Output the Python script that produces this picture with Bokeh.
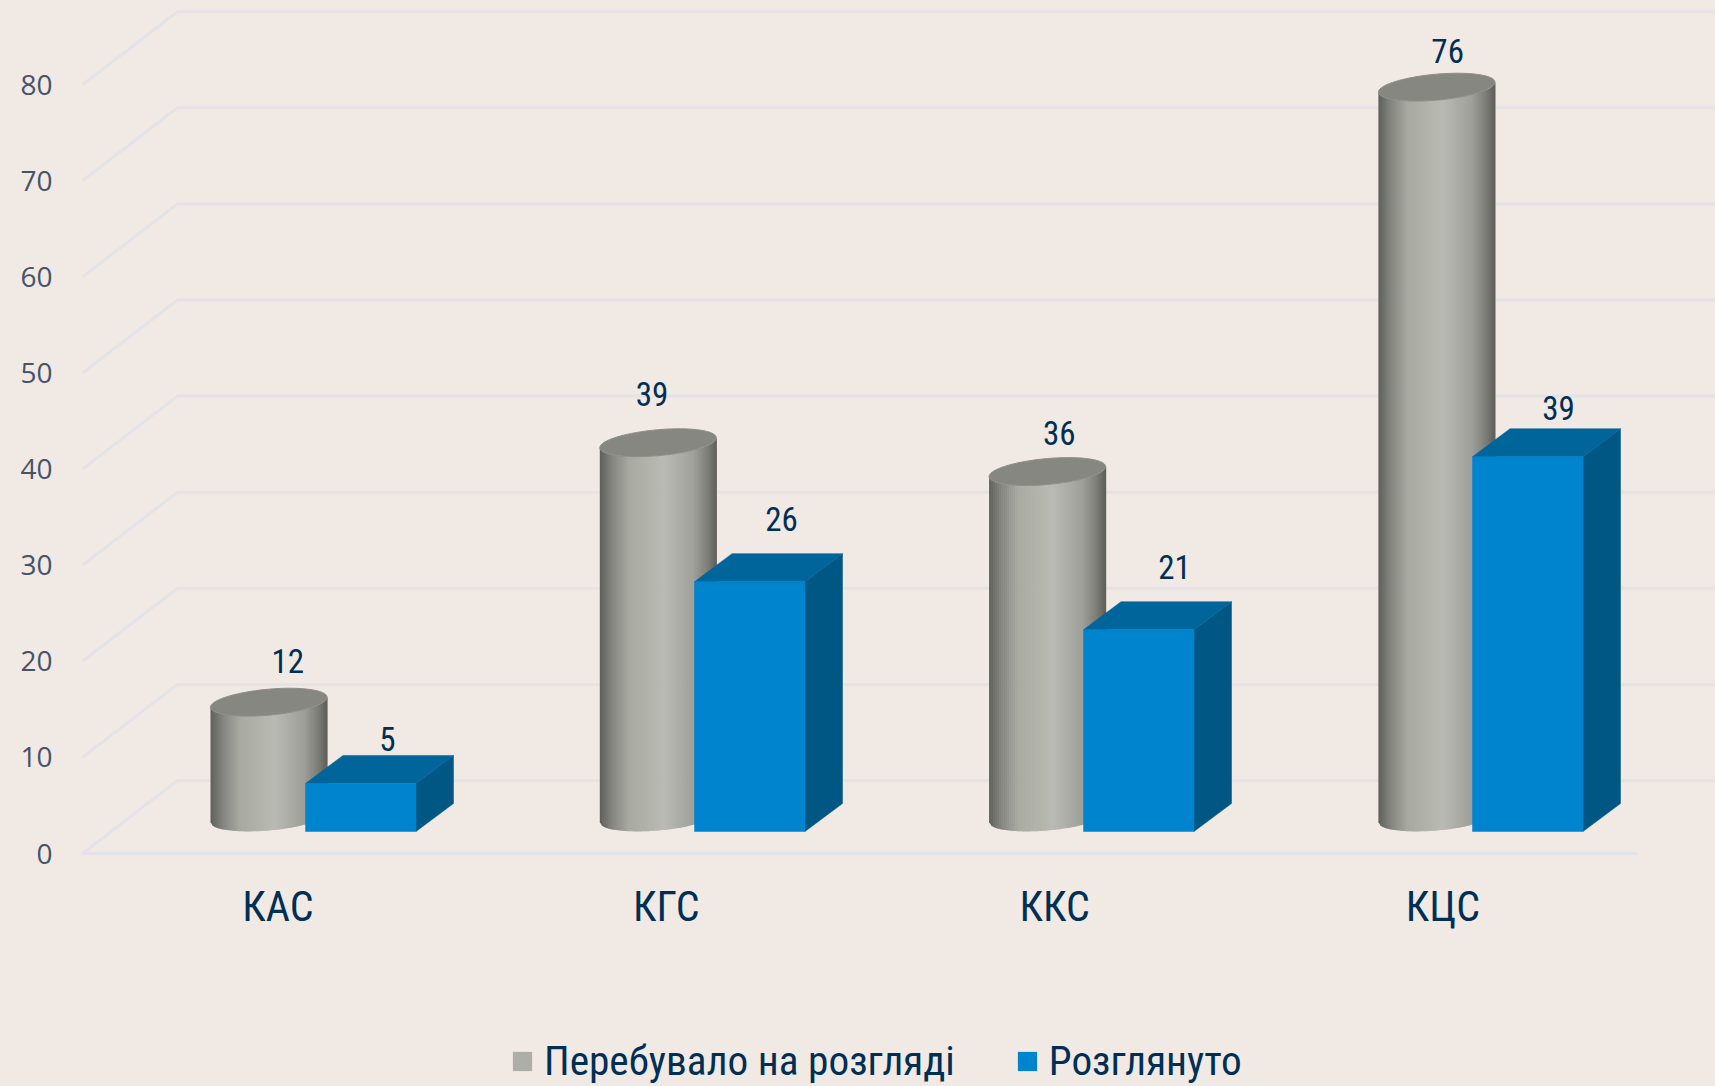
from bokeh.plotting import figure
from bokeh.models import FixedTicker, Legend, LegendItem, LinearAxis
from bokeh.core.properties import value
from bokeh.embed import file_html
from bokeh.resources import INLINE
import math

# ---- data ----
categories = ["КАС", "КГС", "ККС", "КЦС"]
pending = [12, 39, 36, 76]      # Перебувало на розгляді
reviewed = [5, 26, 21, 39]      # Розглянуто
y_ticks = [0, 10, 20, 30, 40, 50, 60, 70, 80]
series_names = ["Перебувало на розгляді", "Розглянуто"]

# ---- style / layout ----
BG = "#f1e9e4"
GRID = "#e4e4e8"
INK = "#002f55"
TICK_INK = "#44546a"
NARROW = "Roboto Condensed"
PX_PER_UNIT = 9.61
W, H = 1715, 1086
FRAME_LEFT = 70
ZERO_PX = 853


def u(px):
    """vertical pixels -> value units"""
    return px / PX_PER_UNIT


p = figure(width=W, height=H, output_backend="svg", toolbar_location=None,
           x_range=(FRAME_LEFT, W), y_range=(u(ZERO_PX - H), u(ZERO_PX)),
           min_border_left=FRAME_LEFT, min_border_right=0, min_border_top=0, min_border_bottom=0,
           background_fill_color=BG, border_fill_color=BG, outline_line_color=None)
p.grid.visible = False
p.xaxis.visible = False
p.yaxis.visible = False

# axes
SLOT = 389.3
CAT_X0, CAT_SLOT = 277.5, 388.3
yax = LinearAxis(ticker=FixedTicker(ticks=y_ticks), axis_line_color=None,
                 major_tick_line_color=None, minor_tick_line_color=None,
                 major_label_text_font="Open Sans", major_label_text_font_size="28px",
                 major_label_text_color=TICK_INK, major_label_standoff=12)
p.add_layout(yax, "left")
cat_x = [CAT_X0 + CAT_SLOT * i for i in range(len(categories))]
p.text(cat_x, [u(-53)] * len(categories), categories, text_font=value(NARROW), text_font_size="42px",
       text_color=INK, text_align="center", text_baseline="middle")

# gridlines: wall and floor
WALL_X0, WALL_X1 = 82, 177
WALL_DY = u(73)
xs, ys = [], []
for t in y_ticks:
    xs.append([WALL_X0, WALL_X1, W])
    ys.append([t, t + WALL_DY, t + WALL_DY])
xs.append([WALL_X0, 1637])
ys.append([0, 0])
p.multi_line(xs, ys, line_color=GRID, line_width=3)

# cylinders
CYL_X0, CYL_W = 210, 116.5
CYL_BASE = u(36)      # centre of the base ellipse above the front floor line
TILT = 5.0
ELL_B = 13.0
STOPS = [(0, (94, 95, 90)), (.1, (131, 132, 126)), (.25, (168, 169, 161)), (.55, (185, 186, 179)),
         (.8, (159, 160, 153)), (.93, (122, 123, 117)), (1, (93, 94, 88))]


def shade(t):
    for (a, ca), (b, cb) in zip(STOPS, STOPS[1:]):
        if t <= b:
            f = (t - a) / (b - a)
            return "#%02x%02x%02x" % tuple(round(m + (n - m) * f) for m, n in zip(ca, cb))
    return "#5d5e58"


def lower(dx, a):
    """pixels above the ellipse centre for the lower rim"""
    r = max(0.0, 1 - (dx / a) ** 2)
    return dx / a * TILT - ELL_B * math.sqrt(r)


STRIPS = 58
sx, sy, sc = [], [], []
tx, ty = [], []
a = CYL_W / 2
for i, v in enumerate(pending):
    cx = CYL_X0 + SLOT * i + a
    for k in range(STRIPS):
        d0 = -a + CYL_W * k / STRIPS
        d1 = -a + CYL_W * (k + 1) / STRIPS
        sx.append([cx + d0, cx + d1 + .6, cx + d1 + .6, cx + d0])
        sy.append([CYL_BASE + v + u(lower(d0, a)), CYL_BASE + v + u(lower(d1, a)),
                   CYL_BASE + u(lower(d1, a)), CYL_BASE + u(lower(d0, a))])
        sc.append(shade((k + .5) / STRIPS))
    pts = [math.pi * 2 * n / 80 for n in range(80)]
    tx.append([cx + a * math.cos(t) for t in pts])
    ty.append([CYL_BASE + v + u(math.cos(t) * TILT + ELL_B * math.sin(t)) for t in pts])
p.patches(sx, sy, fill_color=sc, line_color=None)
p.patches(tx, ty, fill_color="#878781", line_color="#8f8f89", line_width=1)

# boxes
BOX_X0, BOX_W = 305, 110.5
BOX_SLOT = 389
BOX_DX = 37.5
BOX_DY = u(28)
BOX_BASE = u(22)
for i, v in enumerate(reviewed):
    l = BOX_X0 + BOX_SLOT * i
    r = l + BOX_W
    b = BOX_BASE
    t = b + v
    p.patch([r, r + BOX_DX, r + BOX_DX, r], [b, b + BOX_DY, t + BOX_DY, t], fill_color="#005784", line_color="#005784", line_width=.5)
    p.patch([l, r, r + BOX_DX, l + BOX_DX], [t, t, t + BOX_DY, t + BOX_DY], fill_color="#00659b", line_color="#00659b", line_width=.5)
    p.quad(left=[l], right=[r], bottom=[b], top=[t], fill_color="#0084ce", line_color="#0084ce", line_width=.5)

# value labels, drawn from the series with a hand nudge for each
LBL_DX_CYL = [19, -6, 12, 11]
LBL_UP_CYL = [41, 49, 39, 36]
LBL_DX_BOX = [8, 13, 17, 12]
LBL_UP_BOX = [16, 35, 35, 21]
lx, ly, lt = [], [], []
for i, v in enumerate(pending):
    lx.append(CYL_X0 + SLOT * i + a + LBL_DX_CYL[i])
    ly.append(CYL_BASE + v + u(LBL_UP_CYL[i]))
    lt.append(str(v))
for i, v in enumerate(reviewed):
    lx.append(BOX_X0 + BOX_SLOT * i + (BOX_W + BOX_DX) / 2 + LBL_DX_BOX[i])
    ly.append(BOX_BASE + v + BOX_DY + u(LBL_UP_BOX[i]))
    lt.append(str(v))
p.text(lx, ly, lt, text_font=value(NARROW), text_font_size="33px", text_color=INK,
       text_align="center", text_baseline="middle")

# legend: keys come from zero-size quads left of the visible range
k1 = p.quad(left=[0], right=[0], bottom=[0], top=[0], fill_color="#adaea7", line_color=None)
k2 = p.quad(left=[0], right=[0], bottom=[0], top=[0], fill_color="#0084ce", line_color=None)
legend = Legend(items=[LegendItem(label=series_names[0], renderers=[k1]),
                       LegendItem(label=series_names[1], renderers=[k2])],
                orientation="horizontal", location=(440, 1), background_fill_alpha=0,
                border_line_color=None, label_text_font=NARROW, label_text_font_size="41.3px",
                label_text_color=INK, glyph_width=24, glyph_height=24, label_standoff=10,
                spacing=60, padding=0, margin=0, label_height=42)
p.add_layout(legend)

html = file_html(p, INLINE)
html = html.replace("</head>", "<style>html,body{background:%s;margin:0;overflow:hidden}</style></head>" % BG, 1)
open("out.html", "w").write(html)
